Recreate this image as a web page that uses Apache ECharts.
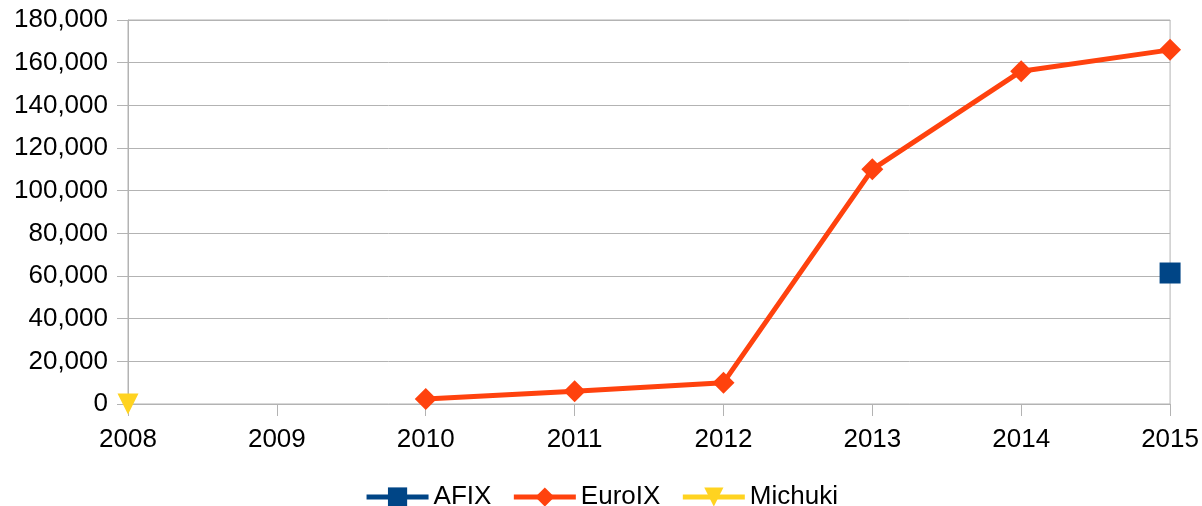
<!DOCTYPE html>
<html>
<head>
<meta charset="utf-8">
<script src="https://cdn.jsdelivr.net/npm/echarts@6/dist/echarts.min.js"></script>
<style>
  html, body { margin: 0; padding: 0; background: #fff; }
  #main { width: 1202px; height: 506px; }
</style>
</head>
<body>
<div id="main"></div>
<script>
// years on the x axis
var years = ['2008', '2009', '2010', '2011', '2012', '2013', '2014', '2015'];
// series values (null = no data)
var afix = [null, null, null, null, null, null, null, 61400];
var euroix = [null, null, 2300, 6000, 10000, 110000, 156000, 166000];
var michuki = [0, null, null, null, null, null, null, null];

var chart = echarts.init(document.getElementById('main'));

var font = 'Liberation Sans, Arial, sans-serif';

var option = {
  animation: false,
  textStyle: { fontFamily: font },
  grid: {
    left: 128,
    right: 30,
    top: 20,
    bottom: 102,
    show: true,
    borderColor: '#b3b3b3',
    borderWidth: 1
  },
  legend: {
    top: 479,
    left: 'center',
    itemWidth: 62,
    itemHeight: 24,
    itemGap: 20,
    lineStyle: { width: 5 },
    textStyle: { fontSize: 26, color: '#000', fontFamily: font },
    data: ['AFIX', 'EuroIX', 'Michuki']
  },
  xAxis: {
    type: 'category',
    data: years,
    boundaryGap: false,
    axisLine: { lineStyle: { color: '#b3b3b3', width: 1 } },
    axisTick: { show: true, length: 12, alignWithLabel: true, lineStyle: { color: '#b3b3b3' } },
    axisLabel: { fontSize: 26, color: '#000', margin: 23 },
    splitLine: { show: false }
  },
  yAxis: {
    type: 'value',
    min: 0,
    max: 180000,
    interval: 20000,
    axisLine: { show: true, lineStyle: { color: '#b3b3b3', width: 1 } },
    axisTick: { show: true, length: 11, lineStyle: { color: '#b3b3b3' } },
    axisLabel: {
      fontSize: 26,
      color: '#000',
      margin: 20,
      formatter: function (v) { return v.toLocaleString('en-US'); }
    },
    splitLine: { lineStyle: { color: '#b3b3b3', width: 1 } }
  },
  series: [
    {
      name: 'AFIX',
      type: 'line',
      data: afix,
      symbol: 'rect',
      symbolSize: 21,
      showSymbol: true,
      showAllSymbol: true,
      itemStyle: { color: '#004586' },
      lineStyle: { color: '#004586', width: 5 }
    },
    {
      name: 'EuroIX',
      type: 'line',
      data: euroix,
      symbol: 'diamond',
      symbolSize: 22,
      showSymbol: true,
      showAllSymbol: true,
      itemStyle: { color: '#ff420e' },
      lineStyle: { color: '#ff420e', width: 5 }
    },
    {
      name: 'Michuki',
      type: 'line',
      data: michuki,
      symbol: 'triangle',
      symbolRotate: 180,
      symbolSize: 21,
      showSymbol: true,
      showAllSymbol: true,
      itemStyle: { color: '#ffd320' },
      lineStyle: { color: '#ffd320', width: 5 }
    }
  ]
};

chart.setOption(option);
</script>
</body>
</html>
